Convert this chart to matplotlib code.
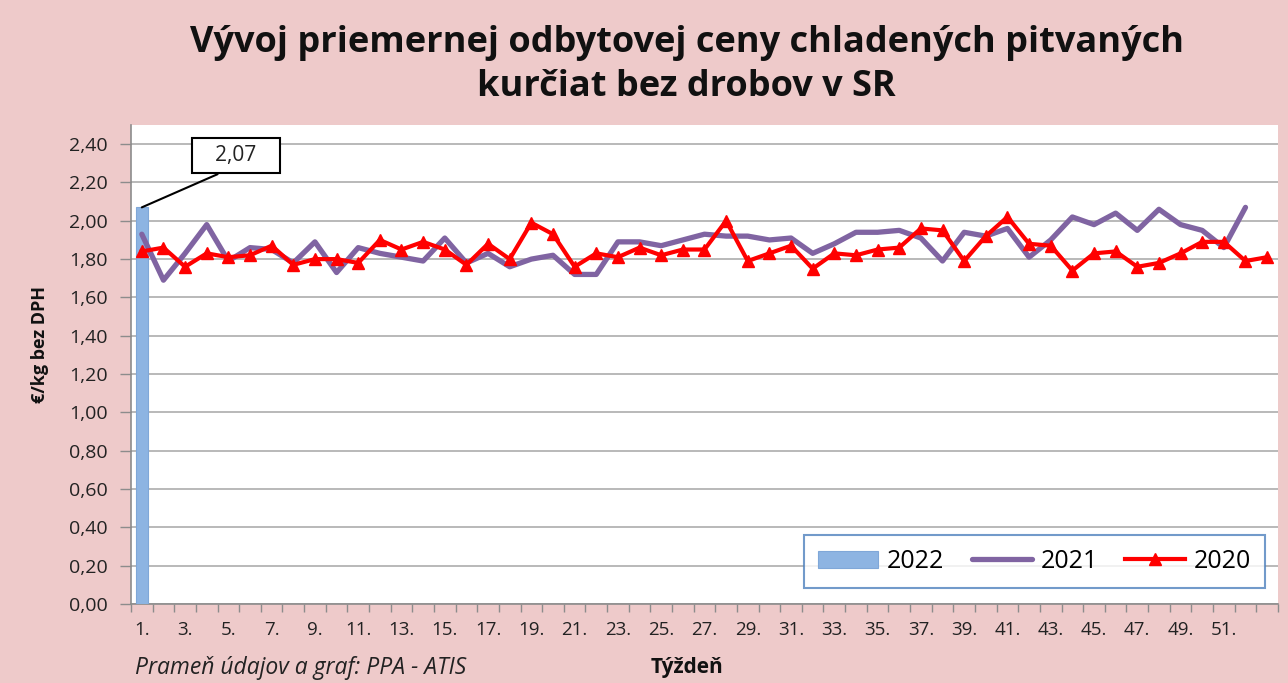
import matplotlib
matplotlib.use("Agg")
import matplotlib.pyplot as plt
from matplotlib.ticker import FuncFormatter, FixedLocator

# weekly prices, EUR/kg excl. VAT
weeks_2020 = list(range(1, 54))
price_2020 = [1.84, 1.86, 1.76, 1.83, 1.81, 1.82, 1.87, 1.77, 1.80, 1.80,
              1.78, 1.90, 1.85, 1.89, 1.85, 1.77, 1.88, 1.80, 1.99, 1.93,
              1.76, 1.83, 1.81, 1.86, 1.82, 1.85, 1.85, 2.00, 1.79, 1.83,
              1.87, 1.75, 1.83, 1.82, 1.85, 1.86, 1.96, 1.95, 1.79, 1.92,
              2.02, 1.88, 1.87, 1.74, 1.83, 1.84, 1.76, 1.78, 1.83, 1.89,
              1.89, 1.79, 1.81]
weeks_2021 = list(range(1, 53))
price_2021 = [1.93, 1.69, 1.83, 1.98, 1.79, 1.86, 1.85, 1.78, 1.89, 1.73,
              1.86, 1.83, 1.81, 1.79, 1.91, 1.78, 1.83, 1.76, 1.80, 1.82,
              1.72, 1.72, 1.89, 1.89, 1.87, 1.90, 1.93, 1.92, 1.92, 1.90,
              1.91, 1.83, 1.88, 1.94, 1.94, 1.95, 1.91, 1.79, 1.94, 1.92,
              1.96, 1.81, 1.90, 2.02, 1.98, 2.04, 1.95, 2.06, 1.98, 1.95,
              1.86, 2.07]
weeks_2022 = [1]
price_2022 = [2.07]

week_labels = [f"{w}." for w in range(1, 52, 2)]
y_ticks = [0.0, 0.2, 0.4, 0.6, 0.8, 1.0, 1.2, 1.4, 1.6, 1.8, 2.0, 2.2, 2.4]

PINK = "#EECACA"
plt.rcParams["font.family"] = ["Open Sans", "DejaVu Sans"]

fig = plt.figure(figsize=(12.88, 6.83), dpi=100, facecolor=PINK)
ax = fig.add_axes([0.1017, 0.1157, 0.8905, 0.7013])
ax.set_facecolor("white")

ax.bar(weeks_2022, price_2022, width=0.55, color="#8DB4E2", edgecolor="#7FA7D8",
       linewidth=0.8, label="2022", zorder=3)
ax.plot(weeks_2021, price_2021, color="#8064A2", lw=3.8, label="2021",
        solid_joinstyle="round", solid_capstyle="round", zorder=4)
ax.plot(weeks_2020, price_2020, color="#FF0000", lw=3.0, marker="^", ms=8.5,
        label="2020", zorder=5)

ax.set_xlim(0.5, 53.5)
ax.set_ylim(0, 2.5)
ax.set_yticks(y_ticks)
ax.yaxis.set_major_formatter(FuncFormatter(lambda v, _: f"{v:.2f}".replace(".", ",")))
ax.grid(axis="y", color="#A6A6A6", lw=1.1, zorder=0)

ax.xaxis.set_major_locator(FixedLocator(list(range(1, 52, 2))))
ax.set_xticklabels(week_labels)
ax.xaxis.set_minor_locator(FixedLocator([w + 0.5 for w in range(0, 54)]))
ax.tick_params(axis="x", which="major", length=0, pad=12, labelsize=13.5, colors="#222222")
ax.tick_params(axis="x", which="minor", length=6, width=1, color="#8C8C8C", direction="out")
ax.tick_params(axis="y", length=8, width=1, color="#8C8C8C", pad=9, labelsize=14,
               labelcolor="#222222")

for side in ("top", "right"):
    ax.spines[side].set_visible(False)
for side in ("left", "bottom"):
    ax.spines[side].set_color("#8C8C8C")
    ax.spines[side].set_linewidth(1.2)

ax.annotate("   2,07   ", xy=(1, 2.07), xytext=(5.35, 2.34), textcoords="data",
            ha="center", va="center", fontsize=15, color="#222222",
            bbox=dict(boxstyle="square,pad=0.35", fc="white", ec="black", lw=1.5),
            arrowprops=dict(arrowstyle="-", color="black", lw=1.5, relpos=(0.5, 0.0),
                            shrinkA=0, shrinkB=0),
            zorder=6)

handles, labels = ax.get_legend_handles_labels()
order = [labels.index(k) for k in ("2022", "2021", "2020")]
leg = ax.legend([handles[i] for i in order], [labels[i] for i in order],
                loc="lower right", bbox_to_anchor=(0.9887, 0.0334), ncol=3,
                fontsize=18, frameon=True, fancybox=False, handlelength=2.4,
                columnspacing=1.1, handletextpad=0.35, borderpad=0.55,
                borderaxespad=0)
leg.get_frame().set_edgecolor("#4F81BD")
leg.get_frame().set_linewidth(1.5)
leg.set_zorder(7)

fig.text(0.533, 0.937, "Vývoj priemernej odbytovej ceny chladených pitvaných",
         ha="center", va="center", fontsize=26, fontweight="bold", color="#111111")
fig.text(0.533, 0.872, "kurčiat bez drobov v SR",
         ha="center", va="center", fontsize=26, fontweight="bold", color="#111111")
fig.text(0.031, 0.495, "€/kg bez DPH", rotation=90, ha="center", va="center",
         fontsize=13, fontweight="bold", color="#111111")
fig.text(0.533, 0.022, "Týždeň", ha="center", va="center", fontsize=15,
         fontweight="bold", color="#111111")
fig.text(0.105, 0.022, "Prameň údajov a graf: PPA - ATIS", ha="left", va="center",
         fontsize=16.5, style="italic", color="#222222")

fig.savefig("out.png", dpi=100, facecolor=PINK)
